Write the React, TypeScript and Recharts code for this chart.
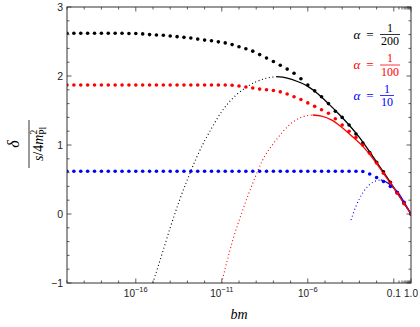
import { ComposedChart, Line, Scatter, XAxis, YAxis } from "recharts";

// sample points of the exact (dotted markers) results, log10(bm)
const dotExp = [
  -20, -19.6, -19.2, -18.8, -18.4, -18, -17.6, -17.2, -16.8, -16.4,
  -16, -15.6, -15.2, -14.8, -14.4, -14, -13.6, -13.2, -12.8, -12.4,
  -12, -11.6, -11.2, -10.8, -10.4, -10, -9.6, -9.2, -8.8, -8.4,
  -8, -7.6, -7.2, -6.8, -6.4, -6, -5.6, -5.2, -4.8, -4.4,
  -4, -3.6, -3.2, -2.8, -2.4, -2, -1.6, -1.2, -0.8, -0.4, 0,
];

const dots200 = [
  2.62, 2.62, 2.62, 2.62, 2.62, 2.62, 2.62, 2.62, 2.62, 2.615,
  2.615, 2.61, 2.6, 2.595, 2.59, 2.58, 2.57, 2.56, 2.55, 2.535,
  2.52, 2.51, 2.495, 2.48, 2.455, 2.425, 2.395, 2.36, 2.31, 2.26,
  2.21, 2.155, 2.1, 2.04, 1.96, 1.87, 1.785, 1.7, 1.6, 1.49,
  1.4, 1.29, 1.16, 1.03, 0.89, 0.75, 0.61, 0.46, 0.31, 0.155, 0,
];

const dots100 = [
  1.87, 1.87, 1.87, 1.87, 1.87, 1.87, 1.87, 1.87, 1.87, 1.87,
  1.87, 1.87, 1.87, 1.87, 1.87, 1.87, 1.87, 1.87, 1.87, 1.87,
  1.87, 1.87, 1.87, 1.87, 1.865, 1.855, 1.84, 1.825, 1.81, 1.8,
  1.79, 1.77, 1.74, 1.7, 1.66, 1.61, 1.56, 1.51, 1.46, 1.38,
  1.29, 1.2, 1.11, 1.0, 0.88, 0.74, 0.59, 0.45, 0.3, 0.15, 0,
];

const dots10 = [
  0.62, 0.62, 0.62, 0.62, 0.62, 0.62, 0.62, 0.62, 0.62, 0.62,
  0.62, 0.62, 0.62, 0.62, 0.62, 0.62, 0.62, 0.62, 0.62, 0.62,
  0.62, 0.62, 0.62, 0.62, 0.62, 0.62, 0.62, 0.62, 0.62, 0.62,
  0.62, 0.62, 0.62, 0.62, 0.62, 0.62, 0.62, 0.62, 0.62, 0.62,
  0.62, 0.62, 0.62, 0.615, 0.58, 0.53, 0.47, 0.4, 0.31, 0.17, 0,
];

// approximations: dotted outside validity, solid inside
const approx200DotExp = [-15.01, -14.4, -14, -13.5, -13, -12.5, -12, -11.6, -11.3, -10.72, -10.16, -9.58, -9, -8.42, -7.84];
const approx200Dot = [-1, -0.52, -0.2, 0.17, 0.5, 0.8, 1.06, 1.24, 1.37, 1.58, 1.725, 1.836, 1.917, 1.967, 1.99];
const approx200Exp = [-7.84, -7.2, -6.6, -6, -5.4, -4.8, -4.2, -3.6, -3, -2.4, -1.8, -1.2, -0.6, 0];
const approx200 = [1.99, 1.97, 1.92, 1.85, 1.74, 1.6, 1.45, 1.29, 1.11, 0.9, 0.68, 0.46, 0.23, 0];

const approx100DotExp = [-11.01, -10.36, -9.78, -9.2, -8.62, -7.84, -7.07, -6.3, -5.72];
const approx100Dot = [-1, -0.377, 0.058, 0.445, 0.783, 1.072, 1.29, 1.41, 1.435];
const approx100Exp = [-5.72, -5.2, -4.6, -4, -3.4, -2.8, -2.2, -1.6, -1, -0.5, 0];
const approx100 = [1.435, 1.42, 1.36, 1.25, 1.12, 0.98, 0.8, 0.59, 0.375, 0.19, 0];

const approx10DotExp = [-3.49, -3.21, -2.82, -2.43, -2.05, -1.76];
const approx10Dot = [-0.087, 0.106, 0.3, 0.42, 0.48, 0.493];
const approx10Exp = [-1.76, -1.47, -1.08, -0.7, -0.35, 0];
const approx10 = [0.493, 0.468, 0.395, 0.29, 0.15, 0];

// ticks
const xMajorExp = [-16, -11, -6, -1, 0];
const xDecadeExp = [-20, -19, -18, -17, -16, -15, -14, -13, -12, -11, -10, -9, -8, -7, -6, -5, -4, -3, -2, -1, 0];
const xLinearMinor = [0.2, 0.3, 0.4, 0.5, 0.6, 0.7, 0.8, 0.9];
const yTicks = [-1, -0.8, -0.6, -0.4, -0.2, 0, 0.2, 0.4, 0.6, 0.8, 1, 1.2, 1.4, 1.6, 1.8, 2, 2.2, 2.4, 2.6, 2.8, 3];

const W = 420;
const H = 327;
const LEFT = 67;
const RIGHT = 411;
const TOP = 7;
const BOTTOM = 283;
const FRAME = "#333";
const SANS = "'Liberation Sans', Arial, sans-serif";
const SERIF = "'Liberation Serif', 'Times New Roman', serif";

const toPts = (exps: number[], ys: number[]) => exps.map((e, i) => ({ x: 10 ** e, y: ys[i] }));

function XTick(props: any) {
  const { x, payload } = props;
  const e = Math.log10(payload.value);
  const major = xMajorExp.some((m) => Math.abs(m - e) < 1e-6);
  const len = major ? 4.5 : 2.5;
  let label = null;
  if (major) {
    label =
      e <= -2 ? (
        <text x={x} y={297} textAnchor="middle" fontFamily={SANS} fontSize={10} fill="#222">
          10
          <tspan dy={-5} fontSize={7.5}>
            {"\u2212" + Math.abs(e)}
          </tspan>
        </text>
      ) : (
        <text x={x} y={297} textAnchor="middle" fontFamily={SANS} fontSize={10} fill="#222">
          {payload.value.toFixed(1)}
        </text>
      );
  }
  return (
    <g>
      <line x1={x} x2={x} y1={BOTTOM} y2={BOTTOM - len} stroke={FRAME} strokeWidth={0.8} />
      <line x1={x} x2={x} y1={TOP} y2={TOP + len} stroke={FRAME} strokeWidth={0.8} />
      {label}
    </g>
  );
}

function YTick(props: any) {
  const { y, payload } = props;
  const v = payload.value;
  const major = Math.abs(v - Math.round(v)) < 1e-6;
  const len = major ? 4.5 : 2.5;
  return (
    <g>
      <line x1={LEFT} x2={LEFT + len} y1={y} y2={y} stroke={FRAME} strokeWidth={0.8} />
      <line x1={RIGHT} x2={RIGHT - len} y1={y} y2={y} stroke={FRAME} strokeWidth={0.8} />
      {major && (
        <text x={LEFT - 4} y={y + 3.5} textAnchor="end" fontFamily={SANS} fontSize={10.5} fill="#222">
          {v < 0 ? "\u2212" + Math.abs(v) : String(v)}
        </text>
      )}
    </g>
  );
}

function Fraction({ y, color, den, barW }: { y: number; color: string; den: string; barW: number }) {
  // y is the bar position
  const cx = 380 + barW / 2;
  return (
    <g fill={color} fontFamily={SERIF} fontSize={12}>
      <text x={357} y={y + 4} textAnchor="middle" fontStyle="italic" fontSize={13}>α</text>
      <text x={370} y={y + 4} textAnchor="middle" fontSize={13}>=</text>
      <text x={cx} y={y - 3} textAnchor="middle">1</text>
      <line x1={380} x2={380 + barW} y1={y} y2={y} stroke={color} strokeWidth={0.8} />
      <text x={cx} y={y + 10.5} textAnchor="middle">{den}</text>
    </g>
  );
}

export default function App() {
  const line = (exps: number[], ys: number[], color: string, dotted: boolean, key: string) => (
    <Line
      key={key}
      data={toPts(exps, ys)}
      dataKey="y"
      type="monotone"
      stroke={color}
      strokeWidth={dotted ? 1.1 : 1.3}
      strokeDasharray={dotted ? "1 2.6" : undefined}
      dot={false}
      activeDot={false}
      isAnimationActive={false}
    />
  );
  const dots = (ys: number[], color: string, key: string) => (
    <Scatter
      key={key}
      data={toPts(dotExp, ys)}
      isAnimationActive={false}
      shape={(p: any) => <circle cx={p.cx} cy={p.cy} r={1.8} fill={color} />}
    />
  );

  const xTicks = [...xDecadeExp.map((e) => 10 ** e), ...xLinearMinor];

  return (
    <div style={{ position: "absolute", left: 0, top: 0, width: W, height: H, background: "#fff" }}>
      <ComposedChart width={W} height={H} margin={{ top: TOP, right: W - RIGHT, bottom: 14, left: 27 }}>
        <XAxis
          dataKey="x"
          type="number"
          scale="log"
          domain={[1e-20, 1]}
          allowDataOverflow
          ticks={xTicks}
          interval={0}
          tick={(p: any) => <XTick {...p} />}
          tickLine={false}
          axisLine={false}
          height={30}
        />
        <YAxis
          dataKey="y"
          type="number"
          domain={[-1, 3]}
          allowDataOverflow
          ticks={yTicks}
          interval={0}
          tick={(p: any) => <YTick {...p} />}
          tickLine={false}
          axisLine={false}
          width={40}
        />
        {line(approx200DotExp, approx200Dot, "#000", true, "a200d")}
        {line(approx200Exp, approx200, "#000", false, "a200")}
        {dots(dots200, "#000", "d200")}
        {line(approx10DotExp, approx10Dot, "#0000ff", true, "a10d")}
        {line(approx10Exp, approx10, "#0000ff", false, "a10")}
        {dots(dots10, "#0000ff", "d10")}
        {line(approx100DotExp, approx100Dot, "#ff0000", true, "a100d")}
        {line(approx100Exp, approx100, "#ff0000", false, "a100")}
        {dots(dots100, "#ff0000", "d100")}
      </ComposedChart>
      <svg width={W} height={H} style={{ position: "absolute", left: 0, top: 0, pointerEvents: "none" }}>
        <rect x={LEFT} y={TOP} width={RIGHT - LEFT} height={BOTTOM - TOP} fill="none" stroke={FRAME} strokeWidth={1} />
        <Fraction y={34.5} color="#000" den="200" barW={20} />
        <Fraction y={65} color="#ff0000" den="100" barW={20} />
        <Fraction y={95.5} color="#0000ff" den="10" barW={14} />
        <text x={239} y={319} textAnchor="middle" fontFamily={SERIF} fontStyle="italic" fontSize={14} fill="#000">
          bm
        </text>
        <g transform="translate(29,144) rotate(-90)" fontFamily={SERIF} fill="#000">
          <text x={0} y={-10} textAnchor="middle" fontStyle="italic" fontSize={16}>δ</text>
          <line x1={-24} x2={24} y1={0} y2={0} stroke="#000" strokeWidth={0.8} />
          <text x={0} y={14} textAnchor="middle" fontSize={14}>
            <tspan fontStyle="italic">s</tspan>/4<tspan fontStyle="italic">m</tspan>
            <tspan dy={-6} fontSize={9.5}>2</tspan>
            <tspan dx={-5} dy={9} fontSize={9.5}>Pl</tspan>
          </text>
        </g>
      </svg>
    </div>
  );
}
